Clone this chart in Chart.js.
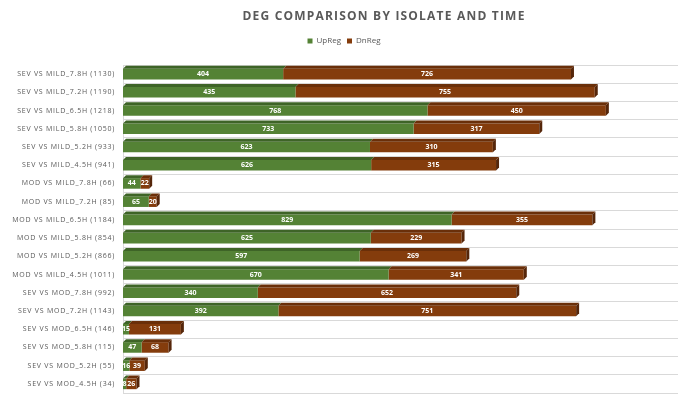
<!DOCTYPE html>
<html>
<head>
<meta charset="utf-8">
<script src="https://cdn.jsdelivr.net/npm/chart.js@4.4.0/dist/chart.umd.min.js"></script>
<style>
  html, body { margin: 0; padding: 0; background: #fff; }
  #wrap { width: 700px; height: 409px; }
</style>
</head>
<body>
<div id="wrap"><canvas id="chart"></canvas></div>
<script>
const categories = [
  "SEV VS MILD_7.8H (1130)", "SEV VS MILD_7.2H (1190)", "SEV VS MILD_6.5H (1218)",
  "SEV VS MILD_5.8H (1050)", "SEV VS MILD_5.2H (933)", "SEV VS MILD_4.5H (941)",
  "MOD VS MILD_7.8H (66)", "MOD VS MILD_7.2H (85)", "MOD VS MILD_6.5H (1184)",
  "MOD VS MILD_5.8H (854)", "MOD VS MILD_5.2H (866)", "MOD VS MILD_4.5H (1011)",
  "SEV VS MOD_7.8H (992)", "SEV VS MOD_7.2H (1143)", "SEV VS MOD_6.5H (146)",
  "SEV VS MOD_5.8H (115)", "SEV VS MOD_5.2H (55)", "SEV VS MOD_4.5H (34)"
];
const upReg = [404, 435, 768, 733, 623, 626, 44, 65, 829, 625, 597, 670, 340, 392, 15, 47, 16, 8];
const dnReg = [726, 755, 450, 317, 310, 315, 22, 20, 355, 229, 269, 341, 652, 751, 131, 68, 39, 26];
const xMax = 1400;

const titleText = "DEG COMPARISON BY ISOLATE AND TIME";

// fake 3d depth on the bars + value labels
const barDepth = {
  id: "barDepth",
  beforeDraw(chart) {
    chart.ctx.letterSpacing = "0px";
  },
  afterDatasetsDraw(chart) {
    const ctx = chart.ctx;
    const d = 3;
    const tops = ["#3e6427", "#6a2f09"];
    const side = "#55260a";
    ctx.save();
    chart.data.datasets.forEach((ds, di) => {
      const meta = chart.getDatasetMeta(di);
      meta.data.forEach((el, i) => {
        const top = el.y - el.height / 2;
        const bottom = el.y + el.height / 2;
        ctx.fillStyle = tops[di];
        ctx.beginPath();
        ctx.moveTo(el.base, top);
        ctx.lineTo(el.x, top);
        ctx.lineTo(el.x + d, top - d);
        ctx.lineTo(el.base + d, top - d);
        ctx.closePath();
        ctx.fill();
        if (di === chart.data.datasets.length - 1) {
          ctx.fillStyle = side;
          ctx.beginPath();
          ctx.moveTo(el.x, top);
          ctx.lineTo(el.x + d, top - d);
          ctx.lineTo(el.x + d, bottom - d);
          ctx.lineTo(el.x, bottom);
          ctx.closePath();
          ctx.fill();
        }
      });
    });
    // labels
    ctx.fillStyle = "#ffffff";
    ctx.font = "bold 7px 'Open Sans'";
    ctx.textAlign = "center";
    ctx.textBaseline = "middle";
    chart.data.datasets.forEach((ds, di) => {
      const meta = chart.getDatasetMeta(di);
      meta.data.forEach((el, i) => {
        ctx.fillText(String(ds.data[i]), (el.x + el.base) / 2, el.y);
      });
    });
    ctx.restore();
    // axis labels get drawn after this, with spacing
    ctx.letterSpacing = "0.75px";
  },
  afterDraw(chart) {
    const ctx = chart.ctx;
    ctx.save();
    ctx.letterSpacing = "1.2px";
    ctx.font = "bold 12px 'Open Sans'";
    ctx.fillStyle = "#595959";
    ctx.textAlign = "center";
    ctx.textBaseline = "middle";
    ctx.fillText(titleText, 384, 17);
    ctx.restore();
    ctx.letterSpacing = "0px";
  }
};

const ctx = document.getElementById("chart").getContext("2d");
const chart = new Chart(ctx, {
  type: "bar",
  data: {
    labels: categories,
    datasets: [
      {
        label: "UpReg",
        data: upReg,
        backgroundColor: "#548235",
        barPercentage: 0.58,
        categoryPercentage: 1,
      },
      {
        label: "DnReg",
        data: dnReg,
        backgroundColor: "#843c0c",
        barPercentage: 0.58,
        categoryPercentage: 1,
      },
    ],
  },
  options: {
    indexAxis: "y",
    responsive: true,
    maintainAspectRatio: false,
    animation: false,
    layout: {
      padding: { top: 31, left: 10, right: 22, bottom: 16 },
    },
    plugins: {
      title: { display: false },
      tooltip: { enabled: false },
      legend: {
        position: "top",
        labels: {
          boxWidth: 5,
          boxHeight: 5,
          color: "#595959",
          font: { size: 8, family: "'Open Sans'" },
          padding: 6,
        },
      },
    },
    scales: {
      x: {
        stacked: true,
        position: "top",
        min: 0,
        max: xMax,
        grid: { display: false },
        border: { display: false },
        ticks: { display: false },
        afterFit(scale) {
          scale.height = 10;
        },
      },
      y: {
        stacked: true,
        afterFit(scale) {
          scale.width = 113;
        },
        grid: {
          offset: true,
          color: "#d9d9d9",
          drawTicks: false,
        },
        border: { display: true, color: "#d9d9d9" },
        ticks: {
          z: 1,
          color: "#595959",
          padding: 8,
          font: { size: 7, family: "'Open Sans'" },
        },
      },
    },
  },
  plugins: [barDepth],
});
</script>
</body>
</html>
